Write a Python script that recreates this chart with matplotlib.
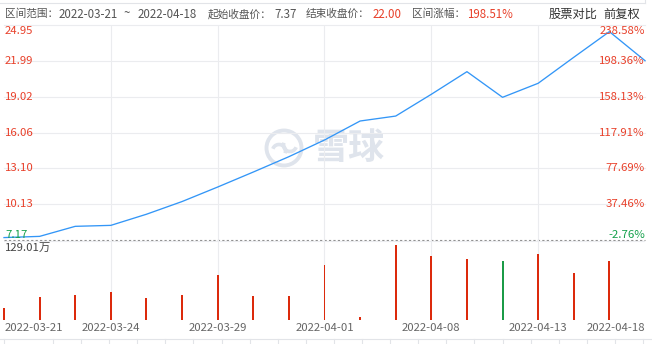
import numpy as np
import matplotlib
matplotlib.use('Agg')
from matplotlib import pyplot as plt
from matplotlib.patches import Circle, Arc
from matplotlib.lines import Line2D
import matplotlib.transforms as mtrans

plt.rcParams['font.family'] = ['Noto Sans CJK SC', 'DejaVu Sans']

# data
dates = ['2022-03-21', '2022-03-22', '2022-03-23', '2022-03-24', '2022-03-25',
         '2022-03-28', '2022-03-29', '2022-03-30', '2022-03-31', '2022-04-01',
         '2022-04-06', '2022-04-07', '2022-04-08', '2022-04-11', '2022-04-12',
         '2022-04-13', '2022-04-14', '2022-04-15', '2022-04-18']
close = [7.37, 7.47, 8.30, 8.38, 9.30, 10.35, 11.55, 12.79, 14.06, 15.44,
         17.01, 17.42, 19.22, 21.09, 18.97, 20.13, 22.28, 24.40, 22.00]
volume = [19.4, 39.0, 41.6, 47.7, 37.2, 42.5, 76.9, 40.5, 40.5, 94.3,
          3.5, 129.01, 109.9, 104.1, 100.7, 113.4, 79.8, 100.7, np.nan]  # 万
price_ticks = [24.95, 21.99, 19.02, 16.06, 13.10, 10.13, 7.17]
price_labels = ['24.95', '21.99', '19.02', '16.06', '13.10', '10.13', '7.17']
pct_labels = ['238.58%', '198.36%', '158.13%', '117.91%', '77.69%', '37.46%', '-2.76%']
xtick_idx = [0, 3, 6, 9, 12, 15, 18]
vol_max_label = '129.01万'

RED = '#e8402a'
GREEN = '#13a04a'
BAR_RED = '#dc2a0c'
BAR_GREEN = '#1b9b47'
LINE = '#3396f7'
GRID = '#ebecef'
TXT = '#555555'
W, H = 652, 344
FS = 8.2

fig = plt.figure(figsize=(W / 100, H / 100), dpi=100)


def frac(x0, y0, x1, y1):
    # pixel box (top-left origin) -> figure fraction rect
    return [x0 / W, 1 - y1 / H, (x1 - x0) / W, (y1 - y0) / H]


# background overlay in pixel coords
bg = fig.add_axes([0, 0, 1, 1], zorder=0)
bg.set_xlim(0, W)
bg.set_ylim(H, 0)
bg.axis('off')

# price panel
ax = fig.add_axes(frac(4, 25, 645, 240), zorder=2)
ax.patch.set_alpha(0)
x = np.arange(len(dates))
ax.set_xlim(0, len(dates) - 1)
ax.set_ylim(price_ticks[-1], price_ticks[0])
for v in price_ticks[:-1]:
    ax.axhline(v, color=GRID, lw=0.8, zorder=0, clip_on=False)
ax.axhline(price_ticks[-1], color='#8c8c8c', lw=0.8, ls=(0, (2, 2)), zorder=1, clip_on=False)
for i in xtick_idx[1:-1]:
    ax.axvline(i, color=GRID, lw=0.8, zorder=0)
ax.plot(x, close, color=LINE, lw=0.95, zorder=3, clip_on=False)
ax.axis('off')

tr = mtrans.blended_transform_factory(fig.transFigure, ax.transData)
n = len(price_ticks)
for k, (v, lab, plab) in enumerate(zip(price_ticks, price_labels, pct_labels)):
    col = GREEN if k == n - 1 else RED
    if k == 0:
        va, dy = 'top', -1.0
    elif k == n - 1:
        va, dy = 'baseline', 1.5
    else:
        va, dy = 'center', 0
    off = mtrans.offset_copy(tr, fig=fig, x=0, y=dy, units='points')
    fig.text(5 / W, v, lab, transform=off, ha='left', va=va, color=col, fontsize=FS, zorder=5)
    fig.text(645 / W, v, plab, transform=off, ha='right', va=va, color=col, fontsize=FS, zorder=5)

# volume panel
vax = fig.add_axes(frac(4, 240, 645, 319.5), zorder=2)
vax.patch.set_alpha(0)
vax.set_xlim(0, len(dates) - 1)
vax.set_ylim(0, 129.01 * 79.5 / 74.5)
vax.axhline(129.01 * 78.5 / 74.5, color=GRID, lw=0.8, zorder=0)
for i in xtick_idx[1:-1]:
    vax.axvline(i, color=GRID, lw=0.8, zorder=0)
bar_cols = [BAR_RED if i == 0 or close[i] >= close[i - 1] else BAR_GREEN for i in range(len(dates))]
vol = np.array(volume, dtype=float)
ok = ~np.isnan(vol)
bars = vax.bar(x[ok], vol[ok], width=0.055, color=np.array(bar_cols)[ok], zorder=2)
for b in bars:
    b.set_clip_on(False)
vax.axis('off')
bg.text(5, 248, vol_max_label, ha='left', va='center', color='#444444', fontsize=FS)

# x tick labels
for i in xtick_idx:
    px = 4 + i * (641 / (len(dates) - 1))
    ha = 'center'
    if i == 0:
        px, ha = 5, 'left'
    elif i == len(dates) - 1:
        px, ha = 645, 'right'
    bg.text(px, 328, dates[i], ha=ha, va='center', color='#666666', fontsize=FS)

# header
hy = 14
cfs = 7.7   # chinese parts
nfs = 8.3   # numbers
bg.text(5, hy, '区间范围：', ha='left', va='center', color=TXT, fontsize=cfs)
bg.text(59, hy, '2022-03-21', ha='left', va='center', color=TXT, fontsize=nfs)
bg.text(127, hy, '~', ha='center', va='center', color=TXT, fontsize=nfs)
bg.text(138, hy, '2022-04-18', ha='left', va='center', color=TXT, fontsize=nfs)
bg.text(208, hy, '起始收盘价：', ha='left', va='center', color=TXT, fontsize=cfs)
bg.text(274, hy, '7.37', ha='left', va='center', color=TXT, fontsize=nfs)
bg.text(306, hy, '结束收盘价：', ha='left', va='center', color=TXT, fontsize=cfs)
bg.text(373, hy, '22.00', ha='left', va='center', color=RED, fontsize=nfs)
bg.text(412, hy, '区间涨幅：', ha='left', va='center', color=TXT, fontsize=cfs)
bg.text(467, hy, '198.51%', ha='left', va='center', color=RED, fontsize=nfs)
bg.text(549, hy, '股票对比', ha='left', va='center', color='#333333', fontsize=8.8)
bg.text(603, hy, '前复权', ha='left', va='center', color='#333333', fontsize=8.8)

# borders / navigator strip
bg.add_line(Line2D([0, 645], [2.5, 2.5], color='#e2e4e8', lw=0.8))
bg.add_line(Line2D([645, 645], [0, 2.5], color='#e2e4e8', lw=0.8))
bg.add_line(Line2D([0, W], [338.5, 338.5], color='#e2e4e8', lw=0.8))
for tx in [4] + list(np.arange(53, 645, 28.1)):
    bg.add_line(Line2D([tx, tx], [338.5, H], color='#e2e4e8', lw=0.8))

# watermark
wm = '#dfe4ec'
bg.add_patch(Circle((284, 148), 17.5, fill=False, ec=wm, lw=2.8))
bg.add_patch(Arc((279, 151), 13, 13, theta1=200, theta2=20, ec=wm, lw=2.6))
bg.add_patch(Arc((290, 145), 13, 13, theta1=20, theta2=200, ec=wm, lw=2.6))
bg.text(349, 149, '雪球', ha='center', va='center', color=wm, fontsize=26, fontweight='bold')

fig.savefig('out.png', dpi=100)
